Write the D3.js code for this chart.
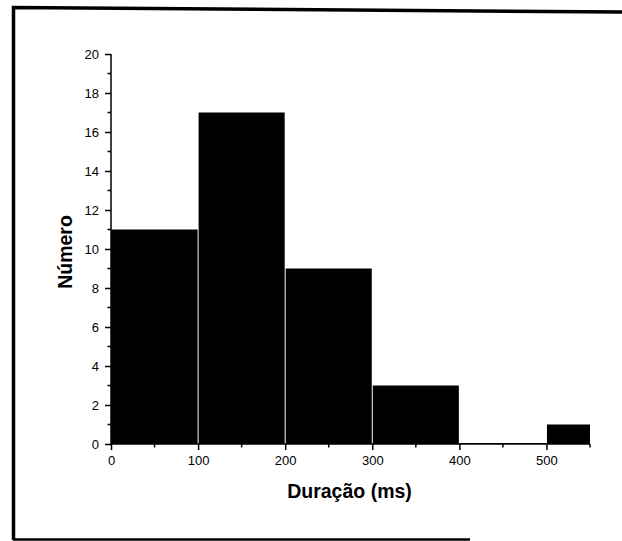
<!DOCTYPE html>
<html>
<head>
<meta charset="utf-8">
<script src="https://cdn.jsdelivr.net/npm/d3@7"></script>
<style>
  body { margin: 0; background: #fff; }
  text { font-family: "Liberation Sans", Arial, sans-serif; }
</style>
</head>
<body>
<div id="chart-area"></div>
<script>
// histogram bins (ms) and counts
const binStart = [0, 100, 200, 300, 400, 500];
const binEnd = [100, 200, 300, 400, 500, 550];
const counts = [11, 17, 9, 3, 0, 1];
const xTicks = [0, 100, 200, 300, 400, 500];
const yTicks = [0, 2, 4, 6, 8, 10, 12, 14, 16, 18, 20];

const W = 622, H = 541;
const margin = { left: 111, right: 32, top: 54, bottom: 97 };
const width = W - margin.left - margin.right;
const height = H - margin.top - margin.bottom;

const svg = d3.select("#chart-area")
  .append("svg")
    .attr("width", W)
    .attr("height", H);

// scanned page frame
svg.append("path")
  .attr("d", "M13.5,540 L13.5,7.5 L622,12")
  .attr("fill", "none")
  .attr("stroke", "#000")
  .attr("stroke-width", 3.5);
svg.append("line")
  .attr("x1", 13).attr("x2", 470)
  .attr("y1", 539.5).attr("y2", 539.5)
  .attr("stroke", "#000")
  .attr("stroke-width", 2.5);

const g = svg.append("g")
  .attr("transform", "translate(" + margin.left + "," + margin.top + ")");

const x = d3.scaleLinear()
  .domain([0, 550])
  .range([0, width]);

const y = d3.scaleLinear()
  .domain([0, 20])
  .range([height, 0]);

// bars
g.selectAll("rect.bar")
  .data(counts)
  .enter()
  .append("rect")
    .attr("class", "bar")
    .attr("x", (d, i) => x(binStart[i]) + (i > 0 ? 0.5 : 0))
    .attr("y", (d) => y(d) - (d === 0 ? 1 : 0))
    .attr("width", (d, i) => x(binEnd[i]) - x(binStart[i]) - (i > 0 ? 0.5 : 0) - (i < counts.length - 1 ? 0.5 : 0))
    .attr("height", (d) => height - y(d) + (d === 0 ? 1 : 0))
    .attr("fill", "#000");

// minor ticks
const xMinor = d3.range(50, 551, 100);
const yMinor = d3.range(1, 20, 2);

const xAxisCall = d3.axisBottom(x)
  .tickValues(xTicks)
  .tickSize(6)
  .tickPadding(6);
const xAx = g.append("g")
  .attr("class", "x axis")
  .attr("transform", "translate(0," + height + ")")
  .call(xAxisCall);
xAx.select(".domain").attr("d", "M0,0H" + width).attr("stroke-width", 1.5);
xAx.selectAll(".tick line").attr("stroke-width", 1.5);
xAx.selectAll("text").attr("font-size", "13px").attr("fill", "#000");
xAx.selectAll(".minor")
  .data(xMinor)
  .enter()
  .append("line")
    .attr("class", "minor")
    .attr("x1", (d) => x(d)).attr("x2", (d) => x(d))
    .attr("y1", 0).attr("y2", 3.5)
    .attr("stroke", "#000")
    .attr("stroke-width", 1.5);

const yAxisCall = d3.axisLeft(y)
  .tickValues(yTicks)
  .tickSize(6)
  .tickPadding(6);
const yAx = g.append("g")
  .attr("class", "y axis")
  .call(yAxisCall);
yAx.select(".domain").attr("d", "M0," + height + "V0").attr("stroke-width", 1.5);
yAx.selectAll(".tick line").attr("stroke-width", 1.5);
yAx.selectAll("text").attr("font-size", "13px").attr("fill", "#000");
yAx.selectAll(".minor")
  .data(yMinor)
  .enter()
  .append("line")
    .attr("class", "minor")
    .attr("x1", 0).attr("x2", -3.5)
    .attr("y1", (d) => y(d)).attr("y2", (d) => y(d))
    .attr("stroke", "#000")
    .attr("stroke-width", 1.5);

g.append("text")
  .attr("class", "x axis-label")
  .attr("x", x(275) - 1)
  .attr("y", height + 54)
  .attr("font-size", "19.5px")
  .attr("font-weight", "bold")
  .attr("text-anchor", "middle")
  .text("Duração (ms)");

g.append("text")
  .attr("class", "y axis-label")
  .attr("x", -(height / 2) - 3)
  .attr("y", -39)
  .attr("font-size", "19.5px")
  .attr("font-weight", "bold")
  .attr("text-anchor", "middle")
  .attr("transform", "rotate(-90)")
  .text("Número");
</script>
</body>
</html>
